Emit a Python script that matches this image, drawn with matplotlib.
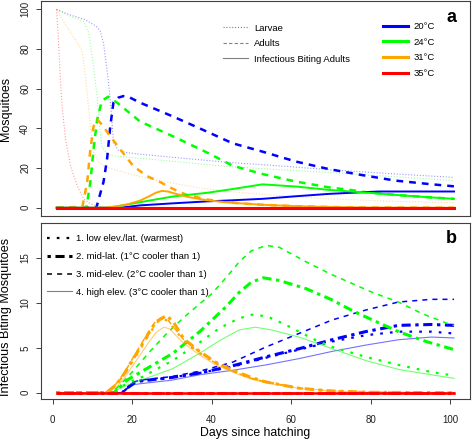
import matplotlib
matplotlib.use("Agg")
import matplotlib.pyplot as plt
from matplotlib.lines import Line2D

plt.rcParams['font.family'] = ['Liberation Sans', 'DejaVu Sans']

# ---------------- Panel a data ----------------
temps = ["20°C", "24°C", "31°C", "35°C"]
temp_colors = ["#0000FF", "#00FF00", "#FFA500", "#FF0000"]

# Larvae
days_larv20 = [1, 4, 8, 11, 12, 12.8, 14, 14.7, 15.3, 16.5, 18.7, 22, 30, 44.5, 54.5, 69.5, 85, 101]
larv20 = [100, 97.5, 95, 91.5, 89, 83, 64.5, 50, 33, 29, 27.8, 27, 25.5, 22.8, 21.5, 19.2, 17.2, 15.3]
days_larv24 = [1, 4, 7.8, 9.1, 10.3, 11.2, 11.6, 12.4, 13.7, 16, 24.5, 44.5, 54.5, 69.5, 85, 101]
larv24 = [100, 97, 94, 88, 71, 56, 44.5, 31, 27, 26, 24.5, 20.7, 19.5, 17.8, 15.8, 13.7]
days_larv31 = [1, 3, 5.3, 7.4, 8.25, 9.1, 9.5, 10.3, 11.6, 13.7, 18.7, 24.5, 30, 37, 44.5, 54.5, 69.5, 85, 101]
larv31 = [100, 93, 86, 79.5, 66, 49.5, 41, 28, 23, 20.3, 17.5, 14.5, 12.5, 10, 8.2, 6.5, 4.5, 3.3, 2.5]
days_larv35 = [1, 1.3, 1.6, 2, 2.4, 3.25, 4.5, 6.2, 7.8, 9.5, 11.2, 13, 16, 101]
larv35 = [100, 90, 79.5, 63, 51, 34.5, 21, 11, 4.5, 2, 0.8, 0.3, 0, 0]

# Adults
days_ad20 = [1, 11, 12.8, 13.7, 14.5, 15.3, 16.5, 17.8, 19, 22, 30.3, 38.7, 45.3, 52.8, 61.2, 69.5, 77.8, 86.2, 94.5, 101]
ad20 = [0, 0, 13, 24.5, 41, 53, 55.5, 56.3, 56, 53, 46, 38.5, 32.5, 28.3, 23.3, 19.5, 16.5, 13.7, 12, 10.8]
days_ad24 = [1, 8.5, 9.5, 10.3, 11.2, 12.4, 14, 16.2, 22, 30.3, 38.7, 45.3, 52.8, 61.2, 69.5, 76, 78, 86.2, 94.5, 101]
ad24 = [0, 0, 13, 29.5, 44.5, 54, 56, 53, 43.5, 36, 28, 21.2, 17, 13.2, 10.3, 8.7, 8.0, 6.5, 5.3, 4.5]
days_ad31 = [1, 7.5, 8.7, 9.5, 10.3, 11.2, 12.4, 14.5, 17, 20.3, 23.7, 27, 30.3, 33.7, 38.7, 44.5, 52.8, 61.2, 69.5, 80, 101]
ad31 = [0, 0.5, 13, 29.5, 41, 44.5, 42, 36, 29.5, 21, 16, 13, 9.5, 6.5, 4.2, 2.6, 1.5, 0.8, 0.4, 0.1, 0]
days_ad35 = [1, 101]
ad35 = [0, 0]

# Infectious biting adults
days_inf20 = [1, 17, 22, 30, 38.7, 44.5, 52.8, 61.2, 69.5, 77.8, 82, 90, 101]
inf20 = [0, 0, 1.2, 2.2, 3.2, 3.7, 4.5, 5.8, 7.0, 7.8, 8.2, 8.2, 8.2]
days_inf24 = [1, 14, 18, 22, 30.3, 38.7, 44.5, 52.8, 61.2, 69.5, 77.8, 86.2, 94.5, 101]
inf24 = [0, 0, 1.3, 2.8, 5.7, 7.5, 9.2, 11.8, 10.7, 9.0, 7.8, 6.5, 5.3, 4.5]
days_inf31 = [1, 13, 16, 19, 22, 24.5, 26, 27.5, 29, 31, 33.7, 38.7, 44.5, 52.8, 61.2, 69.5, 80, 101]
inf31 = [0, 0, 0.7, 1.8, 3.6, 6.0, 7.6, 8.5, 8.2, 7.0, 5.6, 3.8, 2.6, 1.5, 0.8, 0.4, 0.1, 0]
days_inf35 = [1, 101]
inf35 = [0, 0]

stage_labels = ["Larvae", "Adults", "Infectious Biting Adults"]

# ---------------- Panel b data ----------------
scenario_labels = ["1. low elev./lat. (warmest)",
                   "2. mid-lat. (1°C cooler than 1)",
                   "3. mid-elev. (2°C cooler than 1)",
                   "4. high elev. (3°C cooler than 1)"]

# blue
days_b1 = [1, 17.5, 19, 20.5, 22, 30, 37, 45.3, 53.7, 62, 70.3, 78.7, 87, 95.3, 101]
b1 = [0, 0, 0.6, 1.1, 1.3, 1.7, 2.2, 2.9, 3.9, 4.8, 5.7, 6.4, 6.8, 6.8, 6.6]
days_b2 = [1, 17.5, 19, 20.5, 22, 30, 37, 45.3, 53.7, 62, 70.3, 78.7, 87, 95.3, 101]
b2 = [0, 0, 0.6, 1.1, 1.3, 1.7, 2.2, 3.0, 4.0, 4.9, 5.9, 6.8, 7.5, 7.6, 7.5]
days_b3 = [1, 17.5, 19, 20.5, 22, 30, 37, 45.3, 53.7, 62, 70.3, 78.7, 87, 95.3, 101]
b3 = [0, 0, 0.6, 1.2, 1.4, 1.8, 2.4, 3.4, 5.1, 6.6, 8.1, 9.2, 10.1, 10.4, 10.4]
days_b4 = [1, 17.5, 19, 20.5, 22, 30, 37, 45.3, 53.7, 62, 70.3, 78.7, 87, 95.3, 101]
b4 = [0, 0, 0.5, 0.9, 1.0, 1.4, 2.0, 2.5, 3.1, 3.8, 4.6, 5.3, 5.9, 6.2, 6.1]

# green
days_g1 = [1, 15, 17, 19, 22.8, 26, 30.3, 37, 42, 47, 50.3, 54, 58, 62, 66, 70.3, 78.7, 87, 95.3, 101]
g1 = [0, 0, 0.6, 1.1, 1.8, 2.6, 3.6, 5.6, 7.2, 8.3, 8.7, 8.5, 7.7, 6.8, 5.9, 5.1, 4.0, 3.1, 2.3, 1.9]
days_g2 = [1, 15.5, 18.7, 24.5, 30.3, 37, 43.7, 47, 50, 53, 57, 63.7, 70, 76, 82, 87, 94, 101]
g2 = [0, 0, 1.4, 2.9, 4.4, 6.8, 9.6, 11.2, 12.3, 12.8, 12.5, 11.6, 10.4, 9.0, 7.8, 6.8, 5.7, 4.8]
days_g3 = [1, 15, 17, 20, 24.5, 28.7, 32.8, 37, 40, 44, 47, 50, 53.7, 57, 63.7, 70, 80.3, 87, 93, 100, 101]
g3 = [0, 0, 0.9, 2.3, 4.6, 6.6, 8.3, 9.9, 11.0, 13.0, 14.6, 15.8, 16.4, 16.2, 14.6, 13.2, 11.2, 10.1, 8.8, 7.6, 7.5]
days_g4 = [1, 15, 17, 19, 22.8, 26, 30.3, 37, 42, 47, 51, 55, 62, 70.3, 78.7, 87, 95.3, 101]
g4 = [0, 0, 0.5, 0.9, 1.5, 2.0, 2.7, 4.4, 5.8, 7.0, 7.3, 7.0, 6.2, 4.9, 3.6, 2.6, 2.0, 1.6]

# orange
days_o1 = [1, 13.5, 16, 18, 20, 22, 24, 26, 27.5, 29, 31, 33, 37, 41, 45.3, 50, 53.7, 62, 70, 80, 101]
o1 = [0, 0, 0.9, 2.0, 3.4, 4.8, 6.3, 7.7, 8.3, 8.0, 6.9, 5.8, 4.4, 3.3, 2.4, 1.6, 1.2, 0.5, 0.2, 0.05, 0]
days_o2 = [1, 13.5, 16, 18, 20, 22, 24, 26, 28.7, 30.5, 33, 37, 41, 45.3, 50, 53.7, 62, 70, 80, 101]
o2 = [0, 0, 0.9, 2.1, 3.6, 5.0, 6.5, 7.9, 8.6, 7.8, 6.0, 4.6, 3.4, 2.5, 1.7, 1.2, 0.5, 0.2, 0.05, 0]
days_o3 = [1, 13.5, 16, 18, 20, 22, 24, 26, 27.5, 29, 31, 33, 37, 41, 45.3, 50, 53.7, 62, 70, 80, 101]
o3 = [0, 0, 1.0, 2.2, 3.7, 5.2, 6.7, 8.0, 8.4, 8.1, 7.0, 5.9, 4.5, 3.3, 2.4, 1.6, 1.2, 0.5, 0.2, 0.05, 0]
days_o4 = [1, 14, 16, 18, 20, 22, 24, 26, 28, 29.5, 31, 33, 37, 41, 45.3, 50, 53.7, 62, 70, 80, 101]
o4 = [0, 0, 0.6, 1.6, 2.9, 4.2, 5.5, 6.7, 7.3, 7.1, 6.4, 5.5, 4.2, 3.1, 2.3, 1.5, 1.1, 0.5, 0.2, 0.05, 0]

# red
days_r = [1, 101]
r_vals = [0, 0]

xticks = [0, 20, 40, 60, 80, 100]
yticks_a = [0, 20, 40, 60, 80, 100]
yticks_b = [0, 5, 10, 15]

# ---------------- Figure ----------------
fig = plt.figure(figsize=(4.72, 4.41), dpi=100)
ax1 = fig.add_axes([0.0862, 0.5109, 0.9095, 0.4857])
ax2 = fig.add_axes([0.0862, 0.0952, 0.9095, 0.3991])

frame_col = "#404040"
for ax in (ax1, ax2):
    for s in ax.spines.values():
        s.set_color(frame_col)
        s.set_linewidth(0.8)
    ax.set_xlim(-3, 105)
    ax.tick_params(direction='out', length=3.6, width=0.6, colors='#202020', labelsize=7)
    ax.tick_params(axis='y', pad=4)
    ax.tick_params(axis='x', pad=8)

# Panel a
larv_style = dict(lw=0.8, linestyle=(0, (1, 1.6)), alpha=0.4)
ad_style = dict(lw=1.8, linestyle=(0, (2.7, 2.4)))
inf_style = dict(lw=1.4, linestyle='-')

larvae = [(days_larv20, larv20), (days_larv24, larv24), (days_larv31, larv31), (days_larv35, larv35)]
adults = [(days_ad20, ad20), (days_ad24, ad24), (days_ad31, ad31), (days_ad35, ad35)]
infs = [(days_inf20, inf20), (days_inf24, inf24), (days_inf31, inf31), (days_inf35, inf35)]

for (d, v), c in zip(larvae, temp_colors):
    ax1.plot(d, v, color=c, **larv_style)
for (d, v), c in zip(adults, temp_colors):
    ax1.plot(d, v, color=c, **ad_style)
for (d, v), c in zip(infs[:3], temp_colors[:3]):
    ax1.plot(d, v, color=c, **inf_style)
ax1.plot(infs[3][0], infs[3][1], color=temp_colors[3], lw=2.2, zorder=5)

ax1.set_ylim(-4, 104)
ax1.set_xticks([])
ax1.set_yticks(yticks_a)
ax1.set_yticklabels([str(t) for t in yticks_a], rotation=90, va='center')
ax1.set_ylabel("Mosquitoes", fontsize=9)
ax1.yaxis.set_label_coords(-0.0675, 0.5)

gray = "#808080"
h_stage = [Line2D([], [], color=gray, lw=0.8, linestyle=(0, (1, 1.6))),
           Line2D([], [], color=gray, lw=0.8, linestyle=(0, (3, 2))),
           Line2D([], [], color=gray, lw=0.8, linestyle='-')]
leg1 = ax1.legend(h_stage, stage_labels, loc='upper left', bbox_to_anchor=(0.4247, 0.897),
                  frameon=False, fontsize=6.8, handlelength=2.65, handletextpad=0.64,
                  labelspacing=0.7, borderpad=0, borderaxespad=0)
ax1.add_artist(leg1)
h_temp = [Line2D([], [], color=c, lw=2.2) for c in temp_colors]
ax1.legend(h_temp, temps, loc='upper left', bbox_to_anchor=(0.797, 0.905),
           frameon=False, fontsize=6.8, handlelength=2.65, handletextpad=0.64,
           labelspacing=0.72, borderpad=0, borderaxespad=0)
ax1.text(0.957, 0.925, "a", transform=ax1.transAxes, fontsize=13, fontweight='bold',
         ha='center', va='center')

# Panel b
sc_styles = [
    dict(lw=1.6, linestyle=(0, (1.2, 3.2))),
    dict(lw=2.2, linestyle=(0, (1.1, 1.5, 3.0, 1.5))),
    dict(lw=1.1, linestyle=(0, (3.3, 3.3))),
    dict(lw=0.8, linestyle='-', alpha=0.55),
]
blue_s = [(days_b1, b1), (days_b2, b2), (days_b3, b3), (days_b4, b4)]
green_s = [(days_g1, g1), (days_g2, g2), (days_g3, g3), (days_g4, g4)]
orange_s = [(days_o1, o1), (days_o2, o2), (days_o3, o3), (days_o4, o4)]

for group, c in zip([blue_s, green_s, orange_s], temp_colors[:3]):
    for (d, v), st in zip(group, sc_styles):
        ax2.plot(d, v, color=c, **st)
for st in sc_styles:
    st2 = dict(st)
    st2['lw'] = max(st['lw'], 1.8)
    st2.pop('alpha', None)
    ax2.plot(days_r, r_vals, color=temp_colors[3], zorder=4, **st2)

ax2.set_ylim(-0.7, 18.9)
ax2.set_xticks(xticks)
ax2.set_xticklabels([str(t) for t in xticks])
ax2.set_yticks(yticks_b)
ax2.set_yticklabels([str(t) for t in yticks_b], rotation=90, va='center')
ax2.set_ylabel("Infectious Biting Mosquitoes", fontsize=9.1)
ax2.yaxis.set_label_coords(-0.0675, 0.468)
ax2.set_xlabel("Days since hatching", fontsize=8.8)
ax2.xaxis.set_label_coords(0.5, -0.157)

h_sc = [Line2D([], [], color='black', lw=1.6, linestyle=(0, (1.2, 3.2))),
        Line2D([], [], color='black', lw=2.2, linestyle=(0, (1.1, 1.5, 3.0, 1.5))),
        Line2D([], [], color='black', lw=1.1, linestyle=(0, (3.3, 3.3))),
        Line2D([], [], color=gray, lw=0.8, linestyle='-')]
ax2.legend(h_sc, scenario_labels, loc='upper left', bbox_to_anchor=(0.0154, 0.935),
           frameon=False, fontsize=6.8, handlelength=2.6, handletextpad=0.46,
           labelspacing=0.92, borderpad=0, borderaxespad=0)
ax2.text(0.957, 0.913, "b", transform=ax2.transAxes, fontsize=13, fontweight='bold',
         ha='center', va='center')

fig.savefig("out.png", dpi=100)
